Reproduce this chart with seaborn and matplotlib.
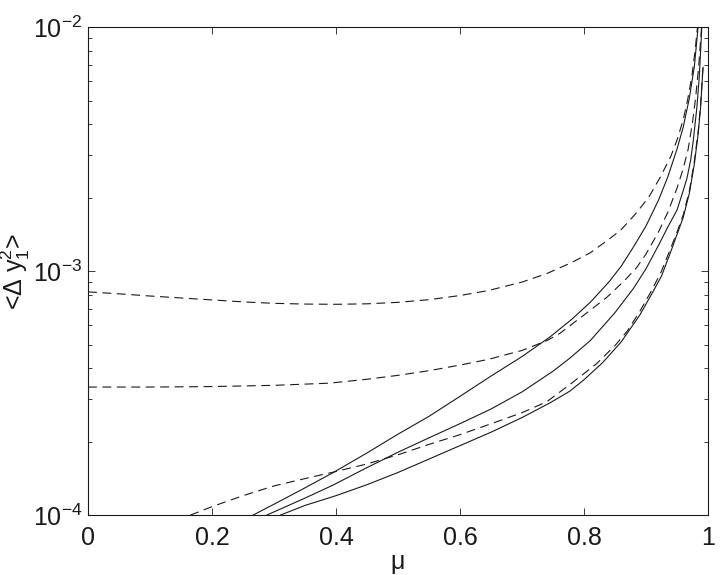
import numpy as np
import pandas as pd
import matplotlib
matplotlib.use('Agg')
import matplotlib.pyplot as plt
import seaborn as sns

sns.set_theme(style='ticks')
plt.rcParams['font.family'] = ['Liberation Sans', 'DejaVu Sans']
plt.rcParams['mathtext.fontset'] = 'custom'
plt.rcParams['mathtext.rm'] = 'Liberation Sans'
plt.rcParams['mathtext.it'] = 'Liberation Sans:italic'
plt.rcParams['mathtext.sf'] = 'Liberation Sans'
for k in ['text.color', 'axes.labelcolor', 'xtick.color', 'ytick.color']:
    plt.rcParams[k] = 'k'

# 读图得到的数据: mu 与 log10(<Δy1^2>)
# 三条实线
s1_mu = [0.266, 0.30, 0.35, 0.395, 0.45, 0.50, 0.55, 0.60, 0.65, 0.70, 0.745, 0.78,
         0.81, 0.84, 0.86, 0.88, 0.90, 0.92, 0.935, 0.95, 0.96, 0.97, 0.978, 0.984, 0.986]
s1_exp = [-4.0, -3.955, -3.888, -3.826, -3.745, -3.668, -3.595, -3.513, -3.43, -3.35,
          -3.27, -3.198, -3.128, -3.045, -2.98, -2.9, -2.815, -2.71, -2.615, -2.5,
          -2.41, -2.29, -2.16, -2.0, -1.95]

s2_mu = [0.288, 0.35, 0.395, 0.45, 0.50, 0.55, 0.60, 0.65, 0.70, 0.75, 0.777, 0.81,
         0.85, 0.88, 0.90, 0.92, 0.935, 0.95, 0.96, 0.966, 0.972, 0.976, 0.982,
         0.986, 0.989, 0.991]
s2_exp = [-4.0, -3.93, -3.877, -3.805, -3.742, -3.683, -3.625, -3.565, -3.495, -3.41,
          -3.357, -3.285, -3.17, -3.07, -2.99, -2.895, -2.82, -2.75, -2.67, -2.62,
          -2.545, -2.47, -2.33, -2.2, -2.05, -1.95]

s3_mu = [0.31, 0.35, 0.40, 0.45, 0.50, 0.55, 0.60, 0.65, 0.70, 0.745, 0.777, 0.80,
         0.83, 0.86, 0.89, 0.91, 0.925, 0.94, 0.95, 0.96, 0.97, 0.978, 0.984, 0.988,
         0.992]
s3_exp = [-4.0, -3.96, -3.92, -3.875, -3.825, -3.77, -3.715, -3.66, -3.6, -3.54,
          -3.492, -3.445, -3.375, -3.29, -3.18, -3.09, -3.02, -2.92, -2.85, -2.78,
          -2.68, -2.56, -2.44, -2.33, -2.164]

# 三条虚线
da_mu = [0.0, 0.05, 0.10, 0.15, 0.20, 0.25, 0.30, 0.35, 0.40, 0.45, 0.50, 0.55,
         0.60, 0.645, 0.70, 0.74, 0.78, 0.81, 0.84, 0.86, 0.885, 0.905, 0.923,
         0.94, 0.95, 0.96, 0.967, 0.974, 0.979, 0.983, 0.985]
da_exp = [-3.085, -3.093, -3.102, -3.11, -3.118, -3.126, -3.132, -3.135, -3.136,
          -3.134, -3.128, -3.117, -3.1, -3.08, -3.045, -3.01, -2.965, -2.925, -2.87,
          -2.83, -2.76, -2.695, -2.615, -2.53, -2.463, -2.38, -2.3, -2.2, -2.1,
          -2.0, -1.95]

db_mu = [0.0, 0.10, 0.20, 0.30, 0.39, 0.45, 0.50, 0.55, 0.60, 0.645, 0.70, 0.74,
         0.761, 0.80, 0.837, 0.866, 0.885, 0.90, 0.92, 0.935, 0.95, 0.96, 0.968,
         0.975, 0.98, 0.985, 0.989, 0.991]
db_exp = [-3.475, -3.475, -3.473, -3.468, -3.459, -3.443, -3.427, -3.408, -3.385,
          -3.362, -3.325, -3.285, -3.255, -3.18, -3.107, -3.037, -2.985, -2.93,
          -2.84, -2.76, -2.66, -2.58, -2.5, -2.39, -2.29, -2.16, -2.02, -1.95]

dc_mu = [0.165, 0.20, 0.25, 0.30, 0.35, 0.395, 0.45, 0.503, 0.55, 0.60, 0.645,
         0.70, 0.74, 0.777, 0.82, 0.85, 0.87, 0.89, 0.91, 0.925, 0.94, 0.95, 0.96,
         0.97, 0.978, 0.984, 0.988, 0.992]
dc_exp = [-4.0, -3.965, -3.92, -3.88, -3.85, -3.824, -3.79, -3.75, -3.71, -3.67,
          -3.63, -3.58, -3.535, -3.465, -3.38, -3.305, -3.245, -3.165, -3.075,
          -3.0, -2.905, -2.84, -2.77, -2.67, -2.55, -2.43, -2.32, -2.155]

curves = [('s1', 'solid', s1_mu, s1_exp), ('s2', 'solid', s2_mu, s2_exp),
          ('s3', 'solid', s3_mu, s3_exp), ('da', 'dashed', da_mu, da_exp),
          ('db', 'dashed', db_mu, db_exp), ('dc', 'dashed', dc_mu, dc_exp)]
df = pd.concat([pd.DataFrame({'mu': m, 'val': 10.0 ** np.array(e), 'curve': c, 'kind': k})
                for c, k, m, e in curves], ignore_index=True)

fig = plt.figure(figsize=(7.21, 5.75), dpi=100)
ax = fig.add_axes([0.122, 0.104, 0.860, 0.849])
sns.lineplot(data=df, x='mu', y='val', units='curve', style='kind',
             estimator=None, sort=False, color='k', linewidth=0.8,
             dashes={'solid': '', 'dashed': (8, 5)}, legend=False, ax=ax)

ax.set_yscale('log')
ax.set_xlim(0, 1)
ax.set_ylim(1e-4, 1e-2)
ax.set_xticks([0, 0.2, 0.4, 0.6, 0.8, 1])
ax.set_xticklabels(['0', '0.2', '0.4', '0.6', '0.8', '1'])
ax.tick_params(which='both', direction='in', top=True, right=True,
               labelsize=18, width=0.6, color='k')
ax.tick_params(which='major', length=5)
ax.tick_params(axis='x', which='major', pad=8)
ax.tick_params(axis='y', which='major', pad=4)
ax.tick_params(which='minor', length=3)
ax.tick_params(axis='x', which='minor', bottom=False, top=False)
for sp in ax.spines.values():
    sp.set_linewidth(0.8)
    sp.set_color('k')

ax.set_xlabel('μ', fontsize=18, labelpad=0)
ax.set_ylabel(r'<Δ y$_1^2$>', fontsize=18)
ax.yaxis.set_label_coords(-0.09, 0.5)

fig.savefig('out.png', dpi=100)
